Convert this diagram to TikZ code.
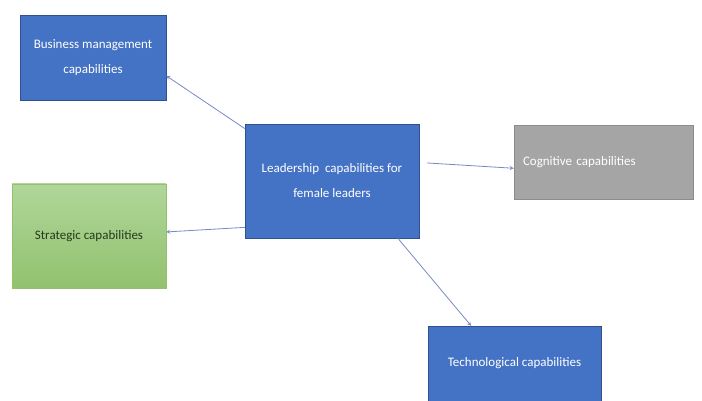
\documentclass[tikz,border=0pt]{standalone}
\usepackage{fontspec}
\setmainfont{Carlito}
\definecolor{boxblue}{RGB}{68,114,196}
\definecolor{boxblueline}{RGB}{47,82,143}
\definecolor{boxgray}{RGB}{165,165,165}
\definecolor{boxgrayline}{RGB}{140,140,140}
\definecolor{greentop}{RGB}{176,214,154}
\definecolor{greenbot}{RGB}{146,194,110}
\definecolor{greentext}{RGB}{40,56,30}
\definecolor{arrowcol}{RGB}{120,138,196}
\begin{document}
\begin{tikzpicture}[x=1pt,y=-1pt,
    capbox/.style={draw=boxblueline,fill=boxblue,text=white,align=center,
      inner sep=0pt,font=\fontsize{13}{25}\selectfont},
    link/.style={->,draw=arrowcol,line width=0.8pt,>=stealth}]
  \useasboundingbox[fill=white] (0,0) rectangle (702,401);
  % Kasten in der Mitte
  \node[capbox,minimum width=174,minimum height=114] (lead) at (332,181)
    {Leadership\ \ capabilities for\\female leaders};
  % aeussere Kaesten
  \node[capbox,minimum width=146,minimum height=85] (biz) at (93,57.5)
    {Business management\\capabilities};
  \node[capbox,draw=boxgrayline,fill=boxgray,align=left,text width=161,
    inner xsep=9,minimum height=74] (cog) at (603.5,162)
    {Cognitive capabilities};
  \node[capbox,draw=greenbot,top color=greentop,bottom color=greenbot,
    text=greentext,minimum width=154,minimum height=104] (strat) at (89,236)
    {Strategic capabilities};
  \node[capbox,minimum width=173,minimum height=75] (tech) at (514.5,363.5)
    {Technological capabilities};
  % Pfeile
  \draw[link] (lead.149) -- (biz.-14);
  \draw[link,shorten <=8pt] (lead.12) -- (cog.184);
  \draw[link] (lead.208) -- (strat.3);
  \draw[link] (lead.-41) -- (tech.139);
\end{tikzpicture}
\end{document}
